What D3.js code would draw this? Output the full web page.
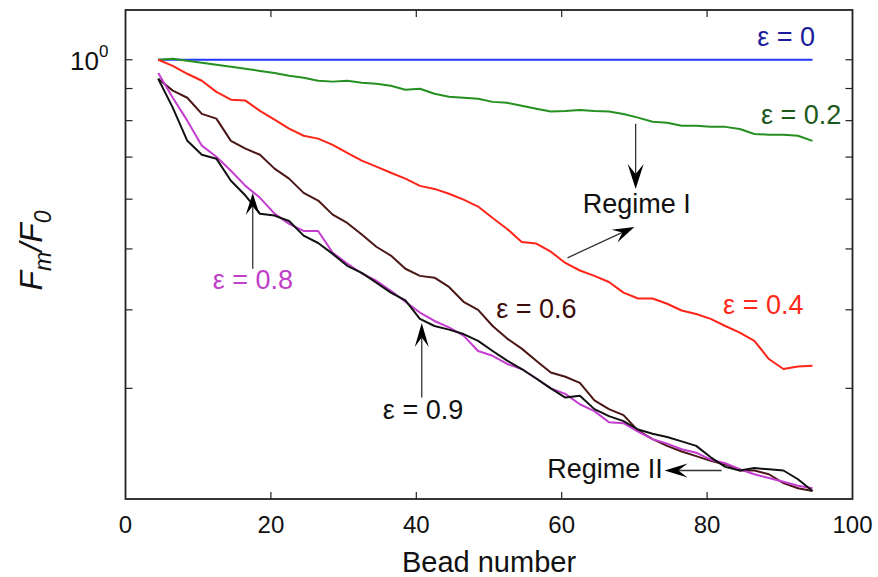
<!DOCTYPE html>
<html>
<head>
<meta charset="utf-8">
<script src="https://cdn.jsdelivr.net/npm/d3@7"></script>
<style>
  html, body { margin: 0; padding: 0; background: #fff; }
  svg { display: block; font-family: "Liberation Sans", Arial, sans-serif; }
</style>
</head>
<body>
<svg id="chart" width="878" height="577"></svg>
<script>
// ---------------- data ----------------
const beads = [4.5, 6.5, 8.5, 10.5, 12.5, 14.5, 16.5, 18.5, 20.5, 22.5, 24.5, 26.5, 28.5, 30.5, 32.5,
  34.5, 36.5, 38.5, 40.5, 42.5, 44.5, 46.5, 48.5, 50.5, 52.5, 54.5, 56.5, 58.5, 60.5, 62.5, 64.5,
  66.5, 68.5, 70.5, 72.5, 74.5, 76.5, 78.5, 80.5, 82.5, 84.5, 86.5, 88.5, 90.5, 92.5, 94.5];

const eps0 = [1, 1, 1, 1, 1, 1, 1, 1, 1, 1, 1, 1, 1, 1, 1, 1, 1, 1, 1, 1, 1, 1, 1,
  1, 1, 1, 1, 1, 1, 1, 1, 1, 1, 1, 1, 1, 1, 1, 1, 1, 1, 1, 1, 1, 1, 1];

const eps02 = [1.000, 1.004, 0.996, 0.989, 0.982, 0.975, 0.968, 0.960, 0.953, 0.943, 0.936, 0.926,
  0.923, 0.926, 0.919, 0.916, 0.909, 0.896, 0.899, 0.883, 0.873, 0.870, 0.867, 0.857, 0.854, 0.845,
  0.836, 0.827, 0.829, 0.832, 0.829, 0.827, 0.820, 0.809, 0.797, 0.794, 0.785, 0.785, 0.782, 0.782,
  0.776, 0.762, 0.760, 0.760, 0.757, 0.743];

const eps04 = [1.000, 0.978, 0.950, 0.926, 0.889, 0.864, 0.861, 0.829, 0.803, 0.777, 0.757, 0.749,
  0.732, 0.711, 0.691, 0.676, 0.661, 0.647, 0.630, 0.623, 0.612, 0.599, 0.584, 0.560, 0.538, 0.513,
  0.510, 0.495, 0.475, 0.462, 0.453, 0.443, 0.426, 0.417, 0.417, 0.409, 0.399, 0.394, 0.387, 0.377,
  0.368, 0.357, 0.334, 0.322, 0.325, 0.326];

const eps06 = [0.933, 0.893, 0.870, 0.820, 0.806, 0.743, 0.722, 0.706, 0.671, 0.647, 0.614, 0.597,
  0.567, 0.550, 0.527, 0.504, 0.488, 0.465, 0.453, 0.450, 0.435, 0.412, 0.400, 0.377, 0.360, 0.347,
  0.332, 0.318, 0.313, 0.306, 0.287, 0.278, 0.272, 0.257, 0.249, 0.243, 0.238, 0.234, 0.230, 0.227,
  0.222, 0.222, 0.219, 0.212, 0.208, 0.206];

const eps08 = [0.953, 0.870, 0.800, 0.730, 0.701, 0.666, 0.630, 0.603, 0.569, 0.548, 0.534, 0.534,
  0.493, 0.474, 0.457, 0.445, 0.429, 0.412, 0.396, 0.384, 0.375, 0.364, 0.344, 0.338, 0.328, 0.322,
  0.311, 0.300, 0.294, 0.283, 0.276, 0.265, 0.264, 0.256, 0.249, 0.245, 0.240, 0.237, 0.231, 0.228,
  0.223, 0.219, 0.216, 0.213, 0.210, 0.208];

const eps09 = [0.933, 0.839, 0.743, 0.706, 0.696, 0.642, 0.608, 0.569, 0.565, 0.554, 0.525, 0.511,
  0.491, 0.470, 0.458, 0.442, 0.426, 0.414, 0.387, 0.377, 0.372, 0.366, 0.357, 0.344, 0.332, 0.322,
  0.311, 0.300, 0.290, 0.292, 0.278, 0.271, 0.266, 0.258, 0.254, 0.251, 0.247, 0.243, 0.233, 0.225,
  0.222, 0.224, 0.223, 0.222, 0.215, 0.206];

const xTicks = [0, 20, 40, 60, 80, 100];
const yTicks = [0.2, 0.3, 0.4, 0.5, 0.6, 0.7, 0.8, 0.9, 1.0];

const series = [
  { name: "eps0",  values: eps0,  color: "#2338ff" },
  { name: "eps02", values: eps02, color: "#249020" },
  { name: "eps04", values: eps04, color: "#ff2418" },
  { name: "eps06", values: eps06, color: "#4a1616" },
  { name: "eps08", values: eps08, color: "#c43cd0" },
  { name: "eps09", values: eps09, color: "#111111" }
];

// annotation labels [text, bead, value(baseline), color]
const labels = [
  ["ε = 0",    86.9, 1.053, "#1c1c9c"],
  ["ε = 0.2",  87.4, 0.791, "#1c5a1c"],
  ["Regime I", 62.9, 0.571, "#111111"],
  ["ε = 0.4",  82.2, 0.394, "#ff2a1a"],
  ["ε = 0.6",  51.0, 0.388, "#3c0c0c"],
  ["ε = 0.8",  12.0, 0.432, "#c040c8"],
  ["ε = 0.9",  35.4, 0.268, "#111111"],
  ["Regime II", 58.0, 0.216, "#111111"]
];

// arrows [fromBead, fromValue, toBead, toValue, headLen, headWidth]
const arrows = [
  [70.17, 0.791, 70.17, 0.623, 25, 16],
  [60.8, 0.484, 70.0, 0.542, 22, 14],
  [17.5, 0.465, 17.5, 0.614, 22, 14],
  [40.75, 0.290, 40.75, 0.381, 24, 14],
  [82.0, 0.222, 74.15, 0.222, 23, 14]
];

// ---------------- drawing ----------------
const svg = d3.select("#chart");
const x = d3.scaleLinear().domain([0, 100]).range([125.5, 852.5]);
const y = d3.scaleLog().domain([0.2, 1.2]).range([499, 10]);

const axisColor = "#222";

// data lines
const line = d3.line().x((d, i) => x(beads[i])).y(d => y(d));
svg.append("g").selectAll("path").data(series).join("path")
  .attr("d", s => line(s.values))
  .attr("fill", "none")
  .attr("stroke", s => s.color)
  .attr("stroke-width", 2)
  .attr("stroke-linejoin", "round");

// frame
svg.append("rect")
  .attr("x", x(0)).attr("y", y(1.2))
  .attr("width", x(100) - x(0)).attr("height", y(0.2) - y(1.2))
  .attr("fill", "none").attr("stroke", axisColor).attr("stroke-width", 1.8);

// ticks (inward)
const tickLen = 7;
const innerX = xTicks.filter(t => t > 0 && t < 100);
const tk = svg.append("g").attr("stroke", axisColor).attr("stroke-width", 1.2);
innerX.forEach(t => {
  tk.append("line").attr("x1", x(t)).attr("x2", x(t)).attr("y1", y(0.2)).attr("y2", y(0.2) - tickLen);
  tk.append("line").attr("x1", x(t)).attr("x2", x(t)).attr("y1", y(1.2)).attr("y2", y(1.2) + tickLen);
});
yTicks.filter(t => t > 0.2).forEach(t => {
  tk.append("line").attr("x1", x(0)).attr("x2", x(0) + tickLen).attr("y1", y(t)).attr("y2", y(t));
  tk.append("line").attr("x1", x(100)).attr("x2", x(100) - tickLen).attr("y1", y(t)).attr("y2", y(t));
});

// x tick labels
svg.append("g").selectAll("text").data(xTicks).join("text")
  .attr("x", d => x(d)).attr("y", y(0.2) + 34)
  .attr("text-anchor", "middle")
  .attr("font-size", 24).attr("fill", "#111")
  .text(d => d);

// y tick label 10^0
const yl = svg.append("text")
  .attr("x", x(0) - 17).attr("y", y(1) + 10)
  .attr("text-anchor", "end").attr("font-size", 26).attr("fill", "#111");
yl.append("tspan").text("10");
yl.append("tspan").attr("dy", -13).attr("font-size", 17).text("0");

// axis titles
svg.append("text")
  .attr("x", (x(0) + x(100)) / 2).attr("y", 572)
  .attr("text-anchor", "middle").attr("font-size", 29).attr("fill", "#111")
  .text("Bead number");

const yt = svg.append("text")
  .attr("transform", `translate(42, ${(y(0.2) + y(1.2)) / 2 - 4}) rotate(-90)`)
  .attr("text-anchor", "middle").attr("font-size", 32).attr("fill", "#111")
  .attr("font-style", "italic");
yt.append("tspan").text("F");
yt.append("tspan").attr("dy", 9).attr("font-size", 23).text("m");
yt.append("tspan").attr("dy", -9).text("/F");
yt.append("tspan").attr("dy", 9).attr("font-size", 23).text("0");

// annotation labels
svg.append("g").selectAll("text").data(labels).join("text")
  .attr("x", d => x(d[1])).attr("y", d => y(d[2]))
  .attr("font-size", 27).attr("fill", d => d[3])
  .text(d => d[0]);

// arrows
const ag = svg.append("g");
arrows.forEach(a => {
  const x1 = x(a[0]), y1 = y(a[1]), x2 = x(a[2]), y2 = y(a[3]);
  const L = a[4], W = a[5];
  const ang = Math.atan2(y2 - y1, x2 - x1);
  const ux = Math.cos(ang), uy = Math.sin(ang);
  const px = -uy, py = ux;
  const bx = x2 - ux * L, by = y2 - uy * L;
  const nx = x2 - ux * L * 0.6, ny = y2 - uy * L * 0.6;
  ag.append("line")
    .attr("x1", x1).attr("y1", y1).attr("x2", nx).attr("y2", ny)
    .attr("stroke", "#333").attr("stroke-width", 1.3);
  ag.append("path")
    .attr("d", `M${x2},${y2} L${bx + px * W / 2},${by + py * W / 2} L${nx},${ny} L${bx - px * W / 2},${by - py * W / 2} Z`)
    .attr("fill", "#000");
});
</script>
</body>
</html>
